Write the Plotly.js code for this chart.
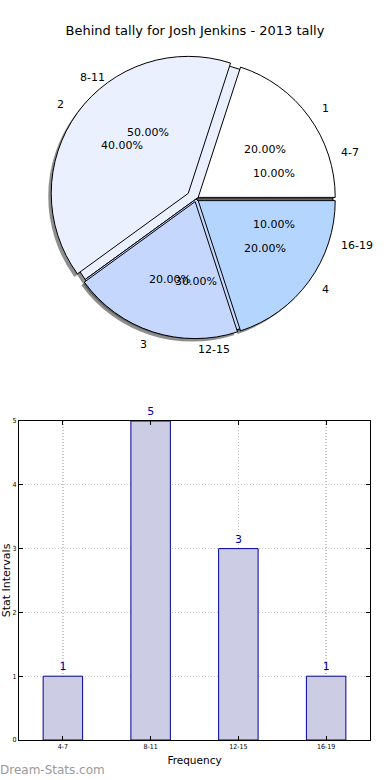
<!DOCTYPE html>
<html>
<head>
<meta charset="utf-8">
<script src="https://cdn.plot.ly/plotly-3.0.1.min.js"></script>
<style>html,body{margin:0;padding:0;background:#fff;}#chart{width:390px;height:780px;}</style>
</head>
<body>
<div id="chart"></div>
<script>
// ---- data ----
var tallyLabels = ["1", "2", "3", "4"];
var tallyValues = [1, 2, 1, 1];
var intervalLabels = ["4-7", "8-11", "12-15", "16-19"];
var intervalValues = [1, 5, 3, 1];
var sliceColors = ["#ffffff", "#eaf0fe", "#c6d7fe", "#b4d5fe"];
var tallyPull = [0.02, 0.07, 0.02, 0.02];
var intervalPull = [0, 0, 0, 0];

// ---- geometry helpers (layout only) ----
var W = 390, H = 780;
var cx = 196, cy = 199, R = 137, TEXT_SPAN = 1.4;
function dom(r, dx, dy) {
  return {x: [(cx + dx - r) / W, (cx + dx + r) / W],
          y: [1 - (cy + dy + r) / H, 1 - (cy + dy - r) / H]};
}
function sum(a) { return a.reduce(function(s, v) { return s + v; }, 0); }
// first wedge starts at 3 o'clock and wedges run counter-clockwise (Plotly places
// the first wedge clockwise of `rotation` in counterclockwise mode)
var rotA = 90 - 360 * tallyValues[0] / sum(tallyValues);
var rotB = 90 - 360 * intervalValues[0] / sum(intervalValues);
var maxPullA = Math.max.apply(null, tallyPull);
var font = "DejaVu Sans, sans-serif";
function fill(arr, c) { return arr.map(function() { return c; }); }

function pie(o) {
  return Object.assign({type: "pie", sort: false, direction: "counterclockwise",
    hoverinfo: "skip", showlegend: false, textinfo: "none"}, o);
}
var shade = "rgba(50,50,50,0.55)";

// text positions derived from the data (percent at 0.6 r, label at 1.1 r), in units of r
var annX = [], annY = [], anns = [];
function wedgeTexts(labels, values, pulls) {
  var total = sum(values), t1 = 0;
  values.forEach(function(v, i) {
    var frac = v / total, t2 = t1 + frac, th = Math.PI * (t1 + t2), p = pulls[i];
    var c = Math.cos(th), s = Math.sin(th);
    var lx = (1.1 + p) * c, ly = (1.1 + p) * s;
    anns.push({xref: "x2", yref: "y2", x: (0.6 + p) * c, y: (0.6 + p) * s,
      text: (100 * frac).toFixed(2) + "%", showarrow: false, xanchor: "center", yanchor: "middle",
      font: {family: font, size: 11, color: "#000"}});
    anns.push({xref: "x2", yref: "y2", x: lx, y: ly, text: labels[i], showarrow: false,
      xanchor: lx > -1e-9 ? "left" : "right", yanchor: "middle",
      font: {family: font, size: 11, color: "#000"}});
    annX.push(lx); annY.push(ly);
    t1 = t2;
  });
}
wedgeTexts(intervalLabels, intervalValues, intervalPull);
wedgeTexts(tallyLabels, tallyValues, tallyPull);

var traces = [
  // shadows
  pie({labels: intervalLabels, values: intervalValues, rotation: rotB, domain: dom(R, -3, 3),
       marker: {colors: fill(intervalLabels, shade), line: {width: 0}}}),
  pie({labels: tallyLabels, values: tallyValues, rotation: rotA, pull: tallyPull,
       domain: dom(R * (1 + maxPullA), -3, 3),
       marker: {colors: fill(tallyLabels, shade), line: {width: 0}}}),
  // wedges
  pie({labels: intervalLabels, values: intervalValues, rotation: rotB, domain: dom(R, 0, 0),
       marker: {colors: sliceColors, line: {color: "#000", width: 1}}}),
  pie({labels: tallyLabels, values: tallyValues, rotation: rotA, pull: tallyPull,
       domain: dom(R * (1 + maxPullA), 0, 0),
       marker: {colors: sliceColors, line: {color: "#000", width: 1}}}),
  // invisible anchor points for the wedge labels (hidden text axes)
  {type: "scatter", mode: "markers", x: annX, y: annY, xaxis: "x2", yaxis: "y2",
   marker: {opacity: 0}, hoverinfo: "skip", showlegend: false},
  // bar chart
  {type: "bar", x: intervalLabels, y: intervalValues, width: 0.45,
   marker: {color: "#ccccE4", line: {color: "#000099", width: 1}},
   text: intervalValues.map(String), textposition: "outside", cliponaxis: false,
   textfont: {family: font, size: 11, color: "#000099"}, hoverinfo: "skip", showlegend: false,
   xaxis: "x", yaxis: "y"}
];

var tickFont = {family: "DejaVu Sans Condensed, DejaVu Sans, sans-serif", size: 7, color: "#000"};
var td = dom(R * TEXT_SPAN, 0, 0);
anns.push({text: "Dream-Stats.com", xref: "paper", yref: "paper", x: -0.005, y: 1 - 770 / H,
    xanchor: "left", yanchor: "middle", showarrow: false,
    font: {family: font, size: 12, color: "#9a9a9a"}});
var layout = {
  width: W, height: H, margin: {l: 0, r: 0, t: 0, b: 0},
  paper_bgcolor: "#fff", plot_bgcolor: "rgba(0,0,0,0)",
  font: {family: font, color: "#000"},
  title: {text: "Behind tally for Josh Jenkins - 2013 tally", font: {family: font, size: 13, color: "#000"},
    x: 0.5, xanchor: "center", y: 1 - 30 / H, yanchor: "middle"},
  xaxis: {domain: [19 / W, 370 / W], anchor: "y", type: "category", range: [-0.5, 3.5],
    showline: true, linecolor: "#000", linewidth: 1, mirror: "ticks",
    ticks: "inside", ticklen: 4, tickcolor: "#000",
    showgrid: true, gridcolor: "#c8c8c8", griddash: "1px,2px", gridwidth: 1.3,
    tickfont: tickFont,
    title: {text: "Frequency", font: {family: font, size: 10.5, color: "#000"}, standoff: 6},
    zeroline: false, fixedrange: true},
  yaxis: {domain: [1 - 740 / H, 1 - 421 / H], anchor: "x", range: [0, 5], dtick: 1,
    showline: true, linecolor: "#000", linewidth: 1, mirror: "ticks",
    ticks: "inside", ticklen: 4, tickcolor: "#000",
    showgrid: true, gridcolor: "#c8c8c8", griddash: "1px,2px", gridwidth: 1.3,
    tickfont: tickFont,
    title: {text: "Stat Intervals", font: {family: font, size: 11, color: "#000"}, standoff: 0},
    zeroline: false, fixedrange: true},
  xaxis2: {domain: td.x, anchor: "y2", range: [-TEXT_SPAN, TEXT_SPAN], visible: false, fixedrange: true},
  yaxis2: {domain: td.y, anchor: "x2", range: [-TEXT_SPAN, TEXT_SPAN], visible: false, fixedrange: true},
  annotations: anns
};

Plotly.newPlot("chart", traces, layout, {displayModeBar: false, staticPlot: true});
</script>
</body>
</html>
